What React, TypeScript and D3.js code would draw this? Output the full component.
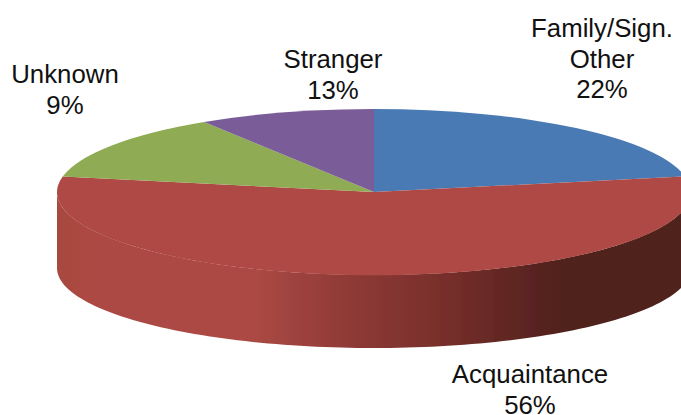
import React from "react";
import * as d3 from "d3";

const sliceNames = ["Family/Sign. Other", "Acquaintance", "Green slice", "Purple slice"];
const sliceValues = [22, 56, 13, 9];
const sliceColors = ["#4a7ab3", "#ae4a45", "#8fab52", "#7a5c99"];
const labelLines = [
  ["Family/Sign.", "Other", "22%"],
  ["Acquaintance", "56%"],
  ["Unknown", "9%"],
  ["Stranger", "13%"],
];
const wallStops: [number, string][] = [
  [0, "#a6483f"], [0.06, "#ad4a44"], [0.3, "#ad4a45"], [0.45, "#913b37"],
  [0.62, "#752e2a"], [0.72, "#5f2622"], [0.8, "#50201d"], [1, "#4f201c"],
];

const W = 681, H = 415;
const cx = 374, cy = 192, rx = 317, ry = 83;
const bottomCy = 268, bottomRy = 80;
const fontSize = 25.8;
const lineH = 30.5;
const labelPos: [number, number][] = [[602, 37], [530, 383], [65, 83], [333, 68]];

const pie = d3.pie<number>().sort(null).value((d) => d);
const arcs = pie(sliceValues);
const arcGen = d3.arc<d3.PieArcDatum<number>>().innerRadius(0).outerRadius(1);

const px = (a: number) => cx + rx * Math.sin(a);
const py = (a: number) => cy - ry * Math.cos(a);
const pyBottom = (a: number) => bottomCy - bottomRy * Math.cos(a);

const wallAngles = d3.range(Math.PI / 2, (3 * Math.PI) / 2 + 0.001, Math.PI / 120);
const wallPts: [number, number][] = [
  ...wallAngles.map((a) => [px(a), py(a)] as [number, number]),
  ...wallAngles.slice().reverse().map((a) => [px(a), pyBottom(a)] as [number, number]),
];
const wallPath = d3.line()(wallPts) + "Z";

export default function App() {
  return (
    <svg width={W} height={H} style={{ position: "absolute", left: 0, top: 0 }} fontFamily="Liberation Sans, Arial, sans-serif">
      <defs>
        <linearGradient id="wall" gradientUnits="userSpaceOnUse" x1={cx - rx} x2={cx + rx} y1={0} y2={0}>
          {wallStops.map(([o, c]) => <stop key={o} offset={o} stopColor={c} />)}
        </linearGradient>
        <filter id="soft" x="-5%" y="-5%" width="110%" height="110%">
          <feGaussianBlur stdDeviation="0.6" />
        </filter>
      </defs>
      <rect width={W} height={H} fill="#fff" />
      <g filter="url(#soft)">
        <path d={wallPath} fill="url(#wall)" />
        <g transform={`translate(${cx},${cy}) scale(${rx},${ry})`}>
          {arcs.map((a, i) => (
            <path key={sliceNames[i]} d={arcGen(a) as string} fill={sliceColors[i]} />
          ))}
        </g>
      </g>
      {labelLines.map((lines, i) => (
        <text key={lines[0]} x={labelPos[i][0]} y={labelPos[i][1]} textAnchor="middle" fontSize={fontSize} fill="#111">
          {lines.map((l, j) => (
            <tspan key={l} x={labelPos[i][0]} dy={j === 0 ? 0 : lineH}>{l}</tspan>
          ))}
        </text>
      ))}
    </svg>
  );
}
